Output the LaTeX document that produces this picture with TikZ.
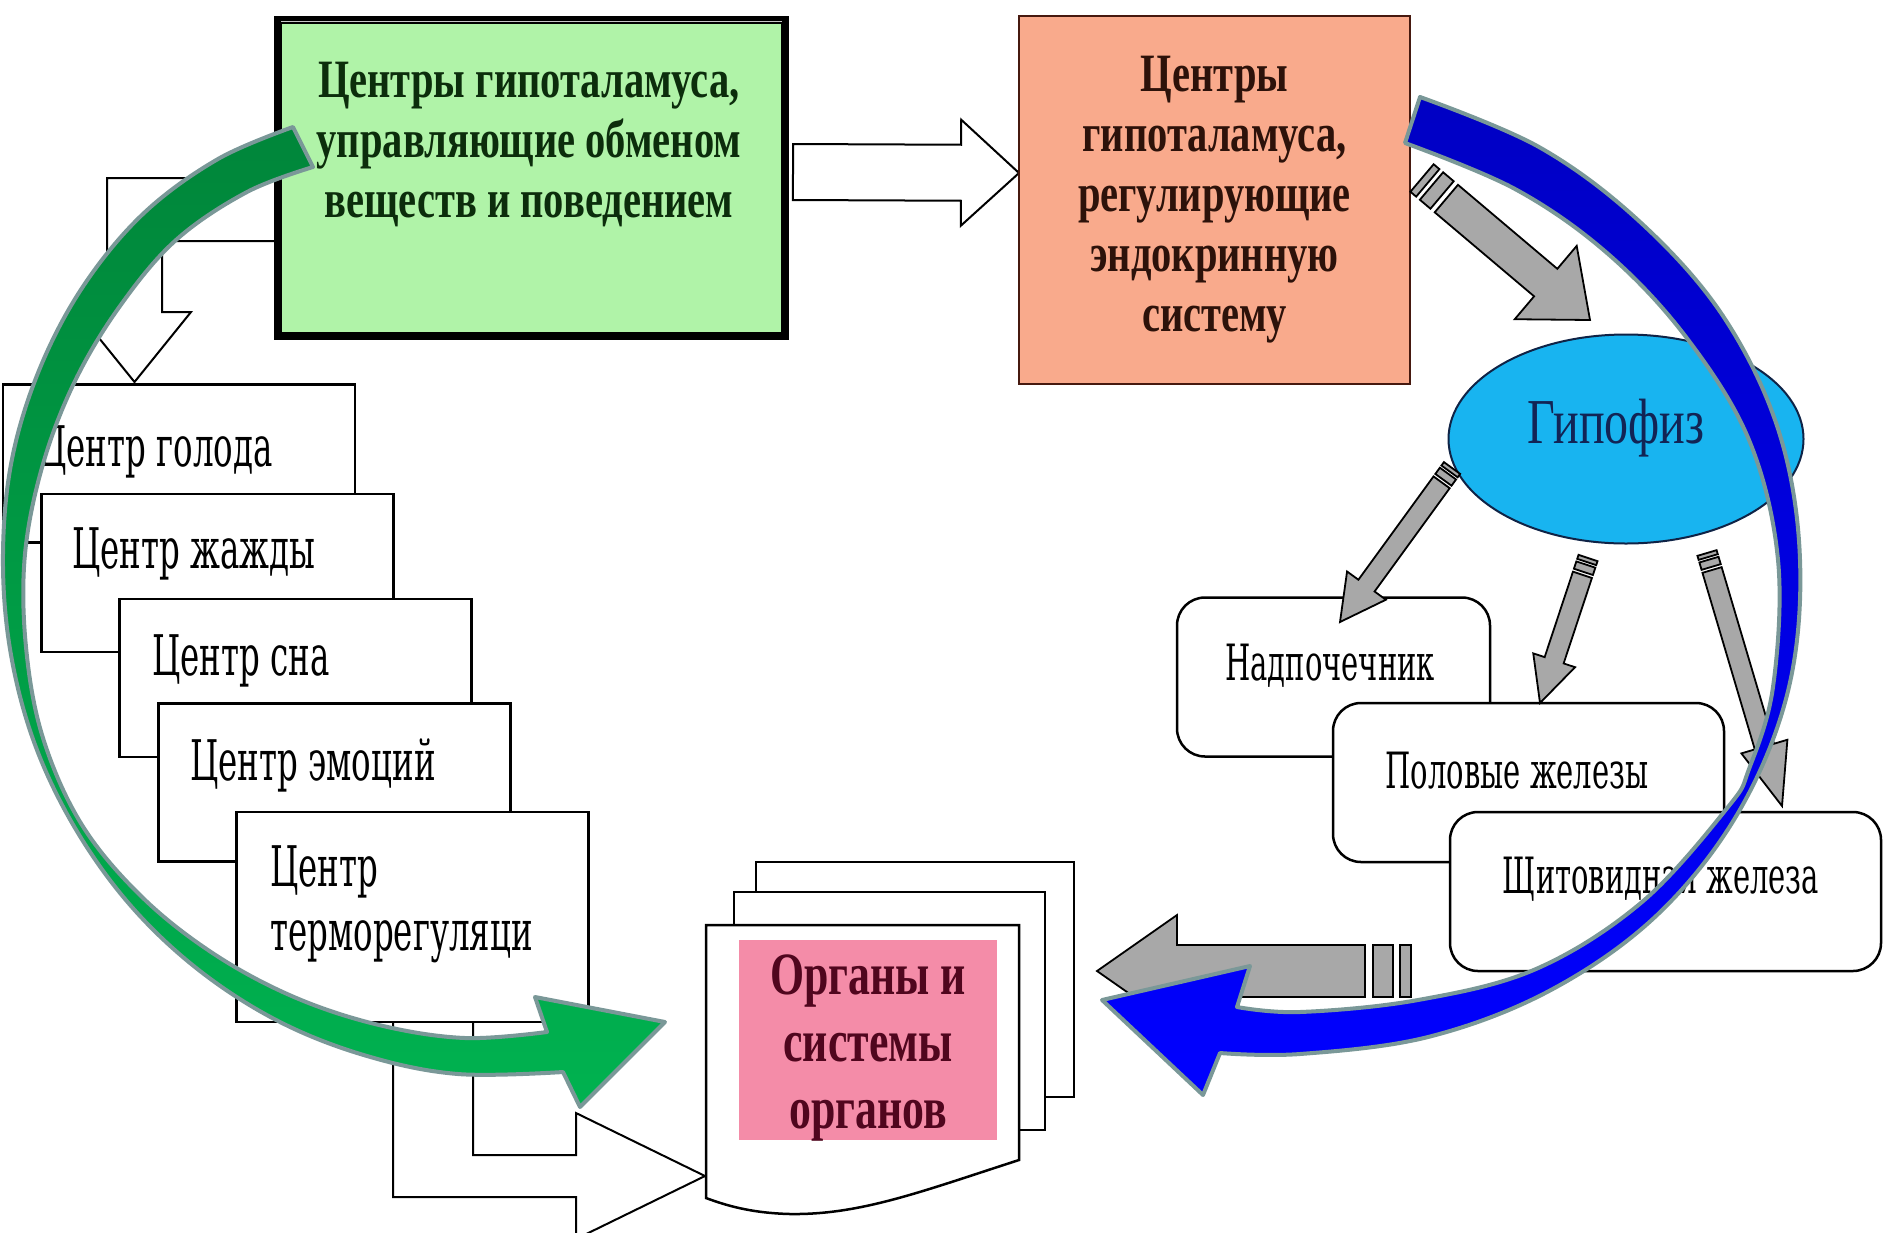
\documentclass[tikz,border=0pt]{standalone}
\usepackage{fontspec}
\setmainfont{Liberation Serif}
\newfontfamily\headfont[FakeStretch=0.75]{Liberation Serif}
\newfontfamily\slabfont[FakeStretch=0.58]{DejaVu Serif}
\newfontfamily\organfont[FakeStretch=0.73]{Liberation Serif}
\usetikzlibrary{calc, shapes.geometric}

\definecolor{vegfill}{RGB}{176,243,168}
\definecolor{vegtext}{RGB}{12,45,12}
\definecolor{endofill}{RGB}{249,170,140}
\definecolor{endoedge}{RGB}{70,25,15}
\definecolor{endotext}{RGB}{45,18,10}
\definecolor{hypofill}{RGB}{24,180,240}
\definecolor{hypoedge}{RGB}{15,35,70}
\definecolor{hypotext}{RGB}{18,36,85}
\definecolor{organpink}{RGB}{244,140,168}
\definecolor{organtext}{RGB}{80,6,30}
\definecolor{arrowgray}{RGB}{168,168,168}
\definecolor{arcedge}{RGB}{122,152,152}
\definecolor{greendark}{RGB}{0,134,58}
\definecolor{greenlight}{RGB}{0,178,80}
\definecolor{bluedark}{RGB}{0,0,196}
\definecolor{bluelight}{RGB}{0,0,255}

\tikzset{
  vegbox/.style={draw=black, fill=vegfill, line width=8pt, minimum width=507pt, minimum height=316pt, inner sep=0pt},
  endobox/.style={draw=endoedge, fill=endofill, line width=2pt, minimum width=391pt, minimum height=368pt, inner sep=0pt,
    align=center, text=endotext, font=\headfont\bfseries\fontsize{54}{60}\selectfont},
  headtext/.style={align=center, inner sep=0pt, text=vegtext, font=\headfont\bfseries\fontsize{54}{60}\selectfont},
  hypo/.style={ellipse, draw=hypoedge, fill=hypofill, line width=2pt, minimum width=355pt, minimum height=209pt, inner sep=0pt},
  hypolabel/.style={anchor=base, inner sep=0pt, text=hypotext, font=\headfont\fontsize{64}{70}\selectfont},
  centrebox/.style={draw=black, fill=white, line width=2.5pt, minimum width=352pt, minimum height=158pt, inner sep=0pt},
  centretext/.style={anchor=base west, inner sep=0pt, font=\slabfont\fontsize{56}{64}\selectfont},
  glandbox/.style={draw=black, fill=white, line width=2.5pt, rounded corners=28pt, minimum height=159pt, inner sep=0pt},
  glandtext/.style={anchor=base, inner sep=0pt, font=\slabfont\fontsize{50}{56}\selectfont},
  page/.style={draw=black, fill=white, line width=2.5pt},
  organbox/.style={fill=organpink, minimum width=258pt, minimum height=200pt, inner sep=0pt},
  organlabel/.style={align=center, inner sep=0pt, text=organtext, font=\organfont\bfseries\fontsize{60}{67}\selectfont},
  hollow/.style={draw=black, fill=white, line width=2pt},
  grayarrow/.style={draw=black, fill=arrowgray, line width=1.8pt},
  bigarc/.style={draw=arcedge, line width=4pt, line join=round},
}

% block arrow: tail, tip, shaft half width, head half width, head length
\newcommand{\hollowarrow}[5]{%
  \coordinate (hb) at ($(#2)!#5pt!(#1)$);
  \filldraw[hollow] ($(#1)!#3pt!90:(#2)$) -- ($(hb)!#3pt!90:(#2)$) -- ($(hb)!#4pt!90:(#2)$) -- (#2)
    -- ($(hb)!#4pt!-90:(#2)$) -- ($(hb)!#3pt!-90:(#2)$) -- ($(#1)!#3pt!-90:(#2)$) -- cycle;
}
% the same, grey, with two stripes at the tail
\newcommand{\stripedarrow}[5]{%
  \pgfmathsetmacro\stripA{#3*0.42}\pgfmathsetmacro\stripB{#3*0.69}%
  \pgfmathsetmacro\stripC{#3*1.46}\pgfmathsetmacro\stripD{#3*1.77}%
  \coordinate (hb) at ($(#2)!#5pt!(#1)$);
  \coordinate (sa) at ($(#1)!\stripA pt!(#2)$);
  \coordinate (sb) at ($(#1)!\stripB pt!(#2)$);
  \coordinate (sc) at ($(#1)!\stripC pt!(#2)$);
  \coordinate (sd) at ($(#1)!\stripD pt!(#2)$);
  \filldraw[grayarrow] ($(#1)!#3pt!90:(#2)$) -- ($(sa)!#3pt!90:(#2)$) -- ($(sa)!#3pt!-90:(#2)$) -- ($(#1)!#3pt!-90:(#2)$) -- cycle;
  \filldraw[grayarrow] ($(sb)!#3pt!90:(#2)$) -- ($(sc)!#3pt!90:(#2)$) -- ($(sc)!#3pt!-90:(#2)$) -- ($(sb)!#3pt!-90:(#2)$) -- cycle;
  \filldraw[grayarrow] ($(sd)!#3pt!90:(#2)$) -- ($(hb)!#3pt!90:(#2)$) -- ($(hb)!#4pt!90:(#2)$) -- (#2)
    -- ($(hb)!#4pt!-90:(#2)$) -- ($(hb)!#3pt!-90:(#2)$) -- ($(sd)!#3pt!-90:(#2)$) -- cycle;
}

\begin{document}
\begin{tikzpicture}[x=1pt, y=-1pt]
    \useasboundingbox (0,0) rectangle (1884,1232);
    \clip (0,0) rectangle (1884,1232);

    % hollow elbow arrow behind the green box
    \filldraw[hollow] (285,178) -- (107,178) -- (107,312) -- (78,312) -- (134.5,382)
        -- (191,312) -- (162,312) -- (162,241) -- (285,241);

    % centres of metabolism and behaviour
    \node[vegbox] (vegbox) at (531.5,178) {};
    \draw[white!55!gray, line width=1.5pt] (281,21.5) -- (782,21.5);
    \node[headtext] (vegtext) at (529,145) {Центры гипоталамуса,\\управляющие обменом\\веществ и поведением};

    % hollow arrow to the endocrine centres
    \coordinate (endotail) at (793,172);
    \coordinate (endotip) at (1019,173);
    \hollowarrow{endotail}{endotip}{28}{53}{58}
    \node[endobox] (endobox) at (1214.5,200) {Центры\\гипоталамуса,\\регулирующие\\эндокринную\\систему};

    % stack of centres
    \filldraw[hollow] (393,1010) -- (393,1197) -- (576,1197) -- (576,1239) -- (705,1176)
        -- (576,1113) -- (576,1155) -- (473,1155) -- (473,1010);
    \node[centrebox] (golod) at (179,463.5) {};
    \node[centretext] (golodtext) at (38,466) {Центр голода};
    \node[centrebox] (zhazhda) at (217.5,573) {};
    \node[centretext] (zhazhdatext) at (72,568) {Центр жажды};
    \node[centrebox] (son) at (295.5,678) {};
    \node[centretext] (sontext) at (152,675) {Центр сна};
    \node[centrebox] (emocii) at (334.5,782.5) {};
    \node[centretext] (emociitext) at (190,780) {Центр эмоций};
    \node[centrebox, minimum height=210pt] (termo) at (412.5,917) {};
    \node[centretext] (termotext) at (270,886) {Центр};
    \node[centretext] (termotextb) at (270,950) {терморегуляци};

    % organs: three pages
    \filldraw[page] (756,862) rectangle (1074,1097);
    \filldraw[page] (734,892) rectangle (1045,1130);
    \filldraw[page] (706,925) -- (1019,925) -- (1019,1160) .. controls (920,1192) and (860,1215) .. (790,1214)
        .. controls (750,1213) and (725,1205) .. (706,1198) -- cycle;
    \node[organbox] (organs) at (868,1040) {};
    \node[organlabel] (organstext) at (868,1048) {Органы и\\системы\\органов};

    % pituitary and glands
    \node[hypo] (hypo) at (1626,439) {};
    \node[hypolabel] (hypotext) at (1616,443) {Гипофиз};
    \node[glandbox, minimum width=313pt] (nadp) at (1333.5,677) {};
    \node[glandtext] (nadptext) at (1330,680) {Надпочечник};
    \node[glandbox, minimum width=391pt] (polov) at (1528.5,782.5) {};
    \node[glandtext] (polovtext) at (1517,788) {Половые железы};
    \node[glandbox, minimum width=431pt] (shchit) at (1665.5,891.5) {};
    \node[glandtext] (shchittext) at (1661,893) {Щитовидная железа};

    % grey striped arrows
    \coordinate (hypotail) at (1422,178);
    \coordinate (hypotip) at (1590,320);
    \stripedarrow{hypotail}{hypotip}{18}{48}{58}
    \coordinate (nadptail) at (1452,468);
    \coordinate (nadptip) at (1340,622);
    \stripedarrow{nadptail}{nadptip}{10}{24}{45}
    \coordinate (polovtail) at (1588,558);
    \coordinate (polovtip) at (1540,703);
    \stripedarrow{polovtail}{polovtip}{10}{22}{45}
    \coordinate (shchittail) at (1707,553);
    \coordinate (shchittip) at (1782,806);
    \stripedarrow{shchittail}{shchittip}{10}{24}{62}
    \coordinate (organtail) at (1411,971);
    \coordinate (organtip) at (1097,971);
    \stripedarrow{organtail}{organtip}{26}{56}{80}

    % green curved arrow
    \shadedraw[bigarc, top color=greendark, middle color=greendark, bottom color=greenlight]
        plot[smooth, tension=0.6] coordinates {(293,127) (218,159) (144,213) (84,285) (40,368) (12,459) (3,554)
            (10,649) (34,742) (75,828) (131,906) (200,971) (280,1022) (367,1056) (458,1074) (563,1072)}
        -- (580,1107) -- (665,1022) -- (535,997)
        -- plot[smooth, tension=0.6] coordinates {(547,1032) (465,1038) (379,1025) (294,997) (214,954) (142,897)
            (82,825) (43,738) (26,647) (25,554) (43,464) (75,381) (120,306) (176,240) (247,192) (313,167)}
        -- cycle;

    % blue curved arrow
    \shadedraw[bigarc, top color=bluedark, bottom color=bluelight]
        plot[smooth, tension=0.6] coordinates {(1420,97) (1539,147) (1639,221) (1723,316) (1779,432) (1800,560)
            (1788,691) (1738,813) (1656,916) (1549,991) (1428,1037) (1300,1054) (1220,1053)}
        -- (1203,1095) -- (1102,1000) -- (1250,966)
        -- plot[smooth, tension=0.6] coordinates {(1237,1007) (1300,1012) (1418,1000) (1536,969) (1642,902)
            (1728,807) (1749,769) (1773,687) (1778,560) (1749,440) (1686,337) (1607,253) (1515,189) (1405,143)}
        -- cycle;
\end{tikzpicture}
\end{document}
